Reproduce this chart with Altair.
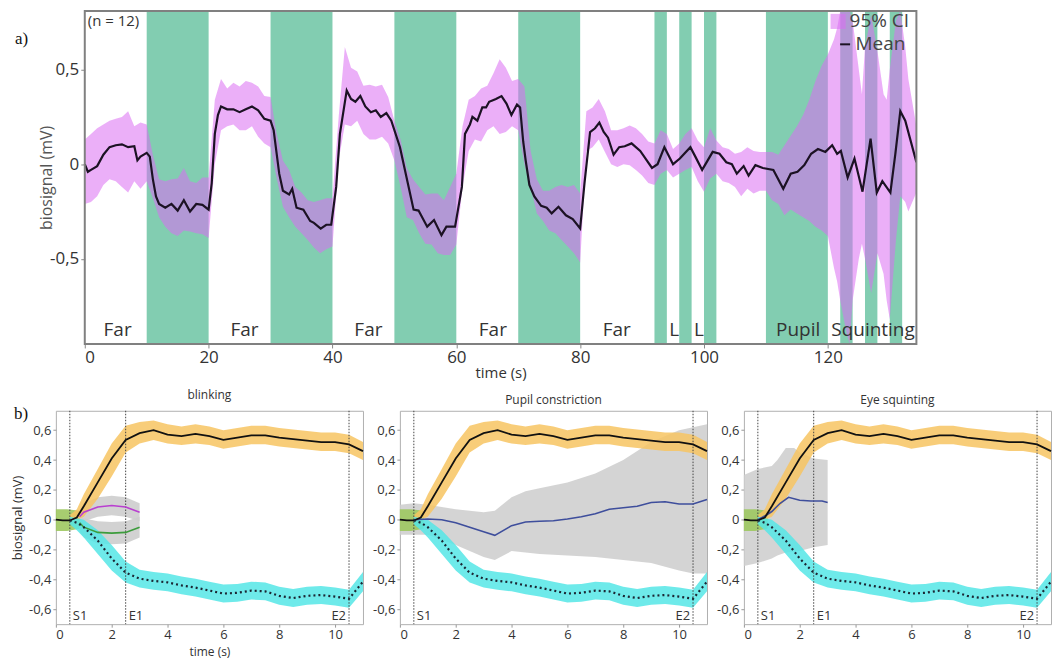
import altair as alt
import pandas as pd

# ---------------- panel (a) data ----------------
mean_t = [0, 0.5, 1, 2, 3, 4, 5, 6, 7, 8, 8.5, 9, 10, 10.5, 11, 11.5, 12, 13, 14, 15, 16, 17, 18, 19, 20,
          20.5, 21, 21.5, 22, 23, 24, 25, 26, 27, 28, 29, 30, 30.5, 31.4, 32, 33, 33.5, 34.2, 35.3, 36.4, 37,
          38.1, 39, 39.8, 40.6, 41.2, 42.3, 43, 43.7, 44.5, 45.3, 46.2, 47, 47.8, 48.7, 49.5, 50.9, 52.3, 53.1,
          53.9, 55.3, 56.4, 57.6, 58.4, 59.8, 60.9, 61.4, 62.2, 62.6, 63.4, 64.2, 64.8, 65.3, 66.4, 67.3, 68.1,
          68.9, 69.8, 70.3, 70.8, 71.2, 71.8, 72.6, 73.7, 74.6, 75.4, 76.5, 77.7, 78.8, 80, 80.7, 81.6, 82.4,
          83.1, 83.8, 84.5, 85.4, 86.3, 87.2, 88.3, 89.7, 91.6, 92.5, 93.6, 95, 96.1, 97.8, 98.6, 99.7, 101.4,
          102.5, 103.6, 104.5, 105.3, 106.4, 107.2, 108.3, 109.5, 111.2, 112.8, 114, 115.1, 116.2, 117.3,
          118.4, 119.6, 120.7, 121.5, 122.1, 123.2, 124.3, 125.6, 126.9, 127.9, 128.8, 130.1, 130.9, 131.7,
          132.5, 134.3]
mean_v = [0.0, -0.04, -0.03, -0.01, 0.05, 0.09, 0.10, 0.105, 0.09, 0.095, 0.02, 0.04, 0.06, 0.04, -0.08,
          -0.17, -0.21, -0.23, -0.21, -0.245, -0.19, -0.25, -0.21, -0.215, -0.24, -0.10, 0.16, 0.26, 0.305,
          0.29, 0.29, 0.275, 0.29, 0.305, 0.285, 0.24, 0.23, 0.18, -0.05, -0.14, -0.16, -0.13, -0.23, -0.24,
          -0.30, -0.31, -0.34, -0.32, -0.32, -0.12, 0.16, 0.39, 0.345, 0.33, 0.36, 0.305, 0.275, 0.285, 0.25,
          0.27, 0.23, 0.09, -0.12, -0.24, -0.245, -0.33, -0.295, -0.375, -0.33, -0.33, -0.12, 0.16, 0.21,
          0.25, 0.23, 0.30, 0.30, 0.33, 0.345, 0.36, 0.32, 0.26, 0.315, 0.30, 0.12, 0.02, -0.11, -0.17, -0.22,
          -0.23, -0.26, -0.225, -0.27, -0.29, -0.34, -0.10, 0.17, 0.19, 0.22, 0.17, 0.14, 0.05, 0.09, 0.095,
          0.11, 0.07, -0.02, 0.0, 0.09, 0.0, 0.03, 0.09, 0.04, -0.03, 0.065, 0.055, 0.01, 0.0, -0.05, -0.01,
          -0.06, -0.005, -0.02, -0.03, -0.13, -0.05, -0.04, -0.005, 0.055, 0.08, 0.065, 0.10, 0.055, 0.07,
          -0.07, 0.03, -0.145, 0.135, -0.15, -0.09, -0.15, 0.055, 0.28, 0.23, 0.01]

ci_t = list(range(0, 122)) + [121.5, 122, 123, 123.5, 124, 125, 125.5, 126, 127, 128, 129, 129.5, 130,
                              131, 131.7, 132.5, 133, 134.3]
ci_lo = [-0.21, -0.20, -0.17, -0.11, -0.08, -0.09, -0.12, -0.15, -0.09, -0.13, -0.09,
         -0.18, -0.28, -0.33, -0.365, -0.38, -0.35, -0.355, -0.365, -0.37, -0.39,
         0.0, 0.18, 0.20, 0.21, 0.18, 0.18, 0.20, 0.145, 0.11, 0.09,
         -0.075, -0.225, -0.28, -0.33, -0.365, -0.40, -0.44, -0.47, -0.45, -0.435,
         0.02, 0.21, 0.20, 0.23, 0.16, 0.13, 0.13, 0.145, 0.11, 0.02,
         -0.12, -0.28, -0.295, -0.365, -0.42, -0.425, -0.47, -0.48, -0.48, -0.425,
         -0.12, 0.07, 0.13, 0.12, 0.18, 0.20, 0.16, 0.17, 0.20, 0.18,
         0.0, -0.12, -0.26, -0.30, -0.35, -0.365, -0.40, -0.435, -0.47, -0.52,
         0.07, 0.09, 0.13, 0.065, 0.0, -0.015, 0.0, -0.005, -0.03, -0.06,
         -0.10, -0.11, -0.05, -0.03, -0.07, -0.05, -0.03, -0.015, -0.09, -0.145,
         -0.075, -0.05, -0.09, -0.10, -0.12, -0.17, -0.13, -0.155, -0.14,
         -0.14, -0.19, -0.21, -0.27, -0.24, -0.26, -0.28, -0.30, -0.33, -0.35, -0.38, -0.55,
         -0.62, -0.72, -0.89, -0.95, -0.72, -0.50, -0.42, -0.50, -0.68, -0.47, -0.58, -0.72, -0.82,
         -0.40, -0.17, -0.20, -0.25, -0.15]
ci_hi = [0.13, 0.16, 0.19, 0.21, 0.23, 0.24, 0.25, 0.28, 0.20, 0.22, 0.21,
         0.05, -0.08, -0.09, -0.08, -0.075, -0.02, -0.09, -0.10, -0.07, -0.07,
         0.34, 0.45, 0.40, 0.43, 0.41, 0.44, 0.43, 0.41, 0.36, 0.355,
         0.16, 0.02, -0.03, -0.12, -0.15, -0.19, -0.20, -0.19, -0.18, -0.18,
         0.25, 0.62, 0.51, 0.49, 0.415, 0.42, 0.41, 0.42, 0.355, 0.23,
         0.13, -0.02, -0.08, -0.12, -0.16, -0.155, -0.155, -0.19, -0.12, -0.05,
         0.20, 0.34, 0.36, 0.40, 0.415, 0.48, 0.555, 0.51, 0.44, 0.45,
         0.41, 0.07, -0.08, -0.14, -0.14, -0.12, -0.11, -0.12, -0.11, -0.155,
         0.28, 0.30, 0.345, 0.28, 0.18, 0.18, 0.19, 0.205, 0.19, 0.16,
         0.12, 0.11, 0.18, 0.16, 0.08, 0.11, 0.16, 0.19, 0.125, 0.09,
         0.19, 0.125, 0.09, 0.08, 0.055, 0.065, 0.09, 0.07, 0.065,
         0.065, 0.065, 0.05, 0.10, 0.15, 0.20, 0.26, 0.34, 0.44, 0.52, 0.58, 0.66,
         0.72, 0.81, 0.81, 0.81, 0.76, 0.50, 0.37, 0.62, 0.79, 0.60, 0.37, 0.34, 0.50,
         0.76, 0.81, 0.62, 0.45, 0.20]

task_start = [10, 30, 50, 70, 92, 96, 100, 110, 122, 126, 130]
task_end = [20, 40, 60, 80, 94, 98, 102, 120, 124, 128, 132]
label_text = ["Far", "Far", "Far", "Far", "Far", "L", "L", "Pupil", "Squinting"]
label_t = [5.3, 25.8, 45.8, 65.9, 85.9, 95.2, 99.2, 115.2, 127.3]
t_range = [0, 134.3]

assert len(mean_t) == len(mean_v), (len(mean_t), len(mean_v))
assert len(ci_t) == len(ci_lo) == len(ci_hi), (len(ci_t), len(ci_lo), len(ci_hi))

# ---------------- panel (b) data ----------------
b_mean_t = [0, 0.25, 0.5, 0.75, 1.0, 1.5, 2.0, 2.5, 3.0, 3.5, 4.0, 4.5, 5.0, 5.5, 6.0, 6.5, 7.0, 7.5, 8.0,
            8.5, 9.0, 9.5, 10.0, 10.5, 11.0]
b_mean_v = [0.0, -0.005, -0.005, 0.015, 0.09, 0.25, 0.41, 0.535, 0.58, 0.60, 0.57, 0.56, 0.575, 0.56, 0.535,
            0.55, 0.565, 0.565, 0.55, 0.54, 0.53, 0.52, 0.52, 0.505, 0.46]
b_band_t = [0.5, 0.75, 1.0, 1.5, 2.0, 2.5, 3.0, 3.5, 4.0, 4.5, 5.0, 5.5, 6.0, 6.5, 7.0, 7.5, 8.0, 8.5, 9.0,
            9.5, 10.0, 10.5, 11.0]
b_up_lo = [-0.01, 0.0, 0.02, 0.14, 0.29, 0.45, 0.51, 0.535, 0.51, 0.50, 0.51, 0.50, 0.475, 0.49, 0.505,
           0.505, 0.49, 0.48, 0.47, 0.46, 0.46, 0.445, 0.40]
b_up_hi = [0.03, 0.07, 0.17, 0.34, 0.51, 0.63, 0.655, 0.665, 0.64, 0.625, 0.64, 0.625, 0.60, 0.615, 0.63,
           0.63, 0.615, 0.605, 0.595, 0.585, 0.585, 0.57, 0.52]
b_down_v = [-0.005, -0.02, -0.05, -0.14, -0.26, -0.355, -0.395, -0.41, -0.42, -0.44, -0.455, -0.475, -0.495,
            -0.49, -0.475, -0.48, -0.51, -0.525, -0.51, -0.505, -0.515, -0.53, -0.415]
b_down_lo = [-0.03, -0.07, -0.12, -0.23, -0.34, -0.42, -0.455, -0.47, -0.48, -0.50, -0.515, -0.535, -0.555,
             -0.55, -0.535, -0.54, -0.57, -0.585, -0.57, -0.565, -0.575, -0.59, -0.48]
b_down_hi = [0.02, 0.01, 0.0, -0.07, -0.17, -0.28, -0.335, -0.35, -0.36, -0.38, -0.395, -0.415, -0.435,
             -0.43, -0.415, -0.42, -0.45, -0.465, -0.45, -0.445, -0.455, -0.47, -0.35]
base_t = [0, 0.4, 0.85]
base_lo = [-0.075, -0.075, -0.06]
base_hi = [0.07, 0.07, 0.06]

blink_t = [0.85, 1.0, 1.5, 2.0, 2.5, 3.0]
blink_up_v = [0.02, 0.05, 0.085, 0.095, 0.085, 0.05]
blink_up_lo = [-0.03, -0.01, 0.02, 0.03, 0.02, -0.01]
blink_up_hi = [0.06, 0.11, 0.15, 0.16, 0.15, 0.11]
blink_dn_v = [-0.02, -0.05, -0.085, -0.09, -0.085, -0.05]
blink_dn_lo = [-0.08, -0.12, -0.16, -0.165, -0.16, -0.12]
blink_dn_hi = [0.03, 0.01, -0.01, -0.015, -0.01, 0.02]

pupil_t = [0.5, 1.0, 1.5, 2.0, 2.5, 3.0, 3.4, 4.0, 4.5, 5.0, 5.5, 6.0, 6.5, 7.0, 7.5, 8.0, 8.5, 9.0, 9.5,
           10.0, 10.5, 11.0]
pupil_v = [0.0, 0.005, 0.0, -0.02, -0.05, -0.08, -0.105, -0.04, -0.015, -0.01, -0.007, 0.005, 0.02, 0.04,
           0.07, 0.08, 0.09, 0.115, 0.12, 0.105, 0.105, 0.135]
pupil_band_t = [0, 0.5, 1, 2, 3, 3.4, 4, 4.5, 5, 6, 7, 8, 9, 10, 10.5, 11]
pupil_lo = [-0.1, -0.1, -0.1, -0.17, -0.25, -0.27, -0.21, -0.22, -0.23, -0.24, -0.25, -0.27, -0.29, -0.34,
            -0.36, -0.36]
pupil_hi = [0.1, 0.11, 0.1, 0.07, 0.05, 0.06, 0.15, 0.19, 0.21, 0.25, 0.31, 0.40, 0.52, 0.60, 0.62, 0.64]

squint_t = [0.5, 0.8, 1.0, 1.3, 1.6, 2.0, 2.4, 2.8, 3.0]
squint_v = [0.0, 0.03, 0.055, 0.11, 0.15, 0.13, 0.125, 0.125, 0.115]
squint_band_t = [0, 0.5, 1.0, 1.2, 1.5, 1.8, 2.0, 2.5, 3.0]
squint_lo = [-0.31, -0.29, -0.26, -0.24, -0.22, -0.215, -0.21, -0.185, -0.17]
squint_hi = [0.30, 0.34, 0.36, 0.40, 0.48, 0.48, 0.45, 0.41, 0.40]

panel_titles = ["blinking", "Pupil constriction", "Eye squinting"]
marker_t = [[0.5, 2.5, 10.5], [0.5, 10.5], [0.5, 2.5, 10.5]]
marker_lab = [["S1", "E1", "E2"], ["S1", "E2"], ["S1", "E1", "E2"]]

# ---------------- style ----------------
FONT = "Open Sans"
GREEN = "#82cdb1"
PINK = "#db6df2"
DARK = "#1c1224"
ORANGE = "#f7c462"
CYAN = "#55e6e6"
OLIVE = "#9dc860"
GREYB = "#cdcdcd"
MAGENTA = "#b93fd0"
GREENL = "#3c9c3c"
BLUE = "#3e4e9c"
TXT = "#333333"
NUM = "replace(replace(format(datum.value, '.1~f'), '.', ','), '\u2212', '-')"

SHIFT = 29                 # top frame starts this far right of the shared column origin
W_TOP, H_TOP = 863, 334
W_B, H_B = 308, 214

# ---------------- top chart ----------------
xs_top = alt.Scale(domain=t_range, range=[SHIFT, W_TOP], nice=False, zero=False)
ys_top = alt.Scale(domain=[-0.95, 0.81], nice=False, zero=False)
x_axis_top = alt.Axis(values=[0, 20, 40, 60, 80, 100, 120], labelFontSize=17, labelFont=FONT,
                      labelColor=TXT, tickSize=4, tickColor="#888", domain=False, grid=False,
                      titleFontSize=15, titleFont=FONT, titleFontWeight="normal", titleColor=TXT,
                      titlePadding=0, labelPadding=2, titleX=SHIFT + (W_TOP - SHIFT) / 2)
y_axis_top = alt.Axis(values=[-0.5, 0, 0.5], labelExpr=NUM, labelFontSize=17, labelFont=FONT,
                      labelColor=TXT, tickSize=4, tickColor="#888", domain=False, grid=False,
                      titleFontSize=16, titleFont=FONT, titleFontWeight="normal", titleColor="#555",
                      titleX=-30, titleY=H_TOP / 2, labelPadding=2, offset=-SHIFT)


def XT(field):
    return alt.X(field, type="quantitative", scale=xs_top, axis=x_axis_top, title="time (s)")


def YT(field):
    return alt.Y(field, type="quantitative", scale=ys_top, axis=y_axis_top, title="biosignal (mV)")


task_df = pd.DataFrame({"start": task_start, "end": task_end})
ci_df = pd.DataFrame({"t": ci_t, "lo": ci_lo, "hi": ci_hi, "k": "95% CI"})
mean_df = pd.DataFrame({"t": mean_t, "v": mean_v, "k": "Mean"})
lab_df = pd.DataFrame({"t": label_t, "s": label_text})
frame_df = pd.DataFrame({"a": [t_range[0]], "b": [t_range[1]]})

bars = alt.Chart(task_df).mark_rect(color=GREEN).encode(
    x=XT("start"), x2="end", y=alt.value(0), y2=alt.value(H_TOP))

band = alt.Chart(ci_df).mark_area(opacity=0.55, clip=True).encode(
    x=XT("t"), y=YT("lo"), y2="hi",
    fill=alt.Fill("k:N", scale=alt.Scale(domain=["95% CI"], range=[PINK]),
                  legend=alt.Legend(title=None, orient="none", legendX=W_TOP - 88, legendY=1,
                                    padding=0, symbolType="square", symbolSize=230, labelFontSize=19,
                                    labelFont=FONT, labelColor="#444", labelOffset=2)))

mline = alt.Chart(mean_df).mark_line(strokeWidth=2.2, clip=True).encode(
    x=XT("t"), y=YT("v"),
    stroke=alt.Stroke("k:N", scale=alt.Scale(domain=["Mean"], range=[DARK]),
                      legend=alt.Legend(title=None, orient="none", legendX=W_TOP - 81, legendY=24,
                                        padding=0, symbolType="stroke", symbolSize=100,
                                        symbolStrokeWidth=2, labelFontSize=19, labelFont=FONT,
                                        labelColor="#444", labelOffset=1)))

labels = alt.Chart(lab_df).mark_text(fontSize=19, font=FONT, color=TXT, baseline="bottom").encode(
    x=XT("t"), y=alt.value(H_TOP - 4), text="s:N")

frame = alt.Chart(frame_df).mark_rect(fill="transparent", stroke="#808080", strokeWidth=2).encode(
    x=XT("a"), x2="b", y=alt.value(0), y2=alt.value(H_TOP))

ntext = alt.Chart(pd.DataFrame({"s": ["(n = 12)"]})).mark_text(
    fontSize=15, font=FONT, color=TXT, align="left", baseline="top").encode(
    x=alt.value(SHIFT + 3), y=alt.value(3), text="s:N")

atext = alt.Chart(pd.DataFrame({"s": ["a)"]})).mark_text(
    fontSize=17, font="Liberation Serif", color="#111", align="left", baseline="middle").encode(
    x=alt.value(-41), y=alt.value(28), text="s:N")

top = alt.layer(bars, band, mline, labels, frame, ntext, atext).properties(
    width=W_TOP, height=H_TOP,
    view=alt.ViewBackground(stroke="transparent")
).resolve_scale(fill="independent", stroke="independent")

# ---------------- bottom panels ----------------
xs_b = alt.Scale(domain=[0, 11], nice=False, zero=False)
ys_b = alt.Scale(domain=[-0.70, 0.73], nice=False, zero=False)

common_band_up = pd.DataFrame({"t": b_band_t, "lo": b_up_lo, "hi": b_up_hi})
common_band_dn = pd.DataFrame({"t": b_band_t, "lo": b_down_lo, "hi": b_down_hi, "v": b_down_v})
common_mean = pd.DataFrame({"t": b_mean_t, "v": b_mean_v})
base_df = pd.DataFrame({"t": base_t, "lo": base_lo, "hi": base_hi})


def panel(i):
    first = i == 0
    xa = alt.Axis(values=[0, 2, 4, 6, 8, 10], labelFontSize=13, labelFont=FONT, labelColor=TXT,
                  tickSize=3, tickColor="#999", domain=False, grid=False, labelPadding=1,
                  titleFontSize=12, titleFont=FONT, titleFontWeight="normal", titleColor=TXT,
                  titlePadding=5)
    ya = alt.Axis(values=[-0.6, -0.4, -0.2, 0, 0.2, 0.4, 0.6], labelExpr=NUM, labelFontSize=13,
                  labelFont=FONT, labelColor=TXT, tickSize=3, tickColor="#999", domain=False,
                  grid=False, labelPadding=2, titleFontSize=13, titleFont=FONT,
                  titleFontWeight="normal", titleColor=TXT, titleX=-31, titleY=H_B / 2)
    xt = "time (s)" if first else None
    yt = "biosignal (mV)" if first else None

    def X(f):
        return alt.X(f, type="quantitative", scale=xs_b, axis=xa, title=xt)

    def Y(f):
        return alt.Y(f, type="quantitative", scale=ys_b, axis=ya, title=yt)

    layers = []
    if i == 0:
        up = pd.DataFrame({"t": blink_t, "v": blink_up_v, "lo": blink_up_lo, "hi": blink_up_hi})
        dn = pd.DataFrame({"t": blink_t, "v": blink_dn_v, "lo": blink_dn_lo, "hi": blink_dn_hi})
        for d in (up, dn):
            layers.append(alt.Chart(d).mark_area(color=GREYB, opacity=0.9).encode(
                x=X("t"), y=Y("lo"), y2="hi"))
    elif i == 1:
        g = pd.DataFrame({"t": pupil_band_t, "lo": pupil_lo, "hi": pupil_hi})
        layers.append(alt.Chart(g).mark_area(color=GREYB, opacity=0.85).encode(
            x=X("t"), y=Y("lo"), y2="hi"))
    else:
        g = pd.DataFrame({"t": squint_band_t, "lo": squint_lo, "hi": squint_hi})
        layers.append(alt.Chart(g).mark_area(color=GREYB, opacity=0.85).encode(
            x=X("t"), y=Y("lo"), y2="hi"))

    layers.append(alt.Chart(base_df).mark_area(color=OLIVE, opacity=0.9).encode(
        x=X("t"), y=Y("lo"), y2="hi"))
    layers.append(alt.Chart(common_band_up).mark_area(color=ORANGE, opacity=0.85).encode(
        x=X("t"), y=Y("lo"), y2="hi"))
    layers.append(alt.Chart(common_band_dn).mark_area(color=CYAN, opacity=0.85).encode(
        x=X("t"), y=Y("lo"), y2="hi"))

    mk = pd.DataFrame({"t": marker_t[i], "s": marker_lab[i]})
    layers.append(alt.Chart(mk).mark_rule(color="#444", strokeDash=[1.5, 1.5], strokeWidth=1).encode(
        x=X("t")))
    layers.append(alt.Chart(mk).transform_filter("datum.s != 'E2'").mark_text(
        fontSize=13, font=FONT, color=TXT, align="left", dx=3, baseline="bottom").encode(
        x=X("t"), y=alt.value(H_B - 1), text="s:N"))
    layers.append(alt.Chart(mk).transform_filter("datum.s == 'E2'").mark_text(
        fontSize=13, font=FONT, color=TXT, align="right", dx=-3, baseline="bottom").encode(
        x=X("t"), y=alt.value(H_B - 1), text="s:N"))

    if i == 0:
        layers.append(alt.Chart(up).mark_line(color=MAGENTA, strokeWidth=1.6).encode(x=X("t"), y=Y("v")))
        layers.append(alt.Chart(dn).mark_line(color=GREENL, strokeWidth=1.6).encode(x=X("t"), y=Y("v")))
    elif i == 1:
        p = pd.DataFrame({"t": pupil_t, "v": pupil_v})
        layers.append(alt.Chart(p).mark_line(color=BLUE, strokeWidth=1.6).encode(x=X("t"), y=Y("v")))
    else:
        p = pd.DataFrame({"t": squint_t, "v": squint_v})
        layers.append(alt.Chart(p).mark_line(color=BLUE, strokeWidth=1.6).encode(x=X("t"), y=Y("v")))

    layers.append(alt.Chart(common_mean).mark_line(color="#111", strokeWidth=1.8).encode(
        x=X("t"), y=Y("v")))
    layers.append(alt.Chart(common_band_dn).mark_line(color="#1b2633", strokeWidth=2.2,
                                                      strokeDash=[2, 3]).encode(x=X("t"), y=Y("v")))
    if first:
        layers.append(alt.Chart(pd.DataFrame({"s": ["b)"]})).mark_text(
            fontSize=17, font="Liberation Serif", color="#111", align="left", baseline="middle").encode(
            x=alt.value(-42), y=alt.value(3), text="s:N"))

    return alt.layer(*layers).properties(
        width=W_B, height=H_B,
        title=alt.TitleParams(panel_titles[i], fontSize=12, font=FONT, fontWeight="normal",
                              color=TXT, offset=3),
        view=alt.ViewBackground(stroke="#b0b0b0", strokeWidth=1))


bottom = alt.hconcat(panel(0), panel(1), panel(2), spacing=4)

chart = alt.vconcat(top, bottom, spacing=6).properties(
    padding={"left": 3, "top": 0, "right": 0, "bottom": 0}).resolve_scale(
    fill="independent", stroke="independent").configure(
    background="white").configure_legend(rowPadding=0)

chart.save("out.html", embed_options={"renderer": "svg", "actions": False})
